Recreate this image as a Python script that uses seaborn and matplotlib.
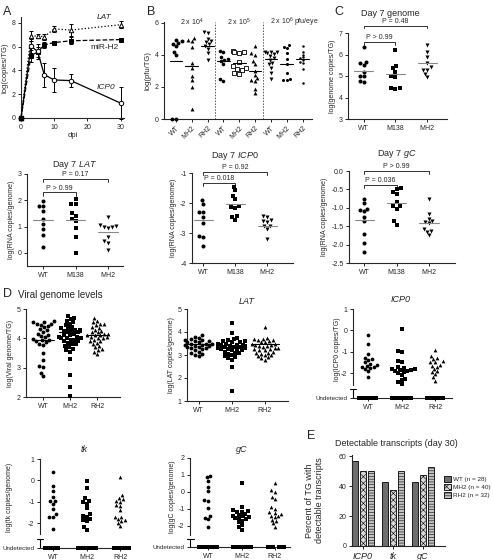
import numpy as np
import pandas as pd
import matplotlib
matplotlib.use("Agg")
import matplotlib.pyplot as plt
import seaborn as sns
from matplotlib.patches import Patch

sns.set_style("ticks")
plt.rcParams['font.family'] = ['Liberation Sans', 'DejaVu Sans']
plt.rcParams['axes.unicode_minus'] = False
plt.rcParams['mathtext.fontset'] = 'custom'
plt.rcParams['mathtext.rm'] = 'Liberation Sans'
plt.rcParams['mathtext.it'] = 'Liberation Sans:italic'
plt.rcParams['hatch.linewidth'] = 0.4
np.random.seed(3)

# ---- A: time course ----
a_days = [0, 3, 5, 7, 10, 15, 30]
a_lat = [0, 6.9, 6.9, 6.85, 7.5, 7.4, 7.85]
a_lat_err = [0, 0.4, 0.2, 0.25, 0.25, 0.5, 0.3]
a_mir = [0, 5.25, 5.55, 6.15, 6.35, 6.5, 6.6]
a_mir_err = [0, 0.5, 0.4, 0.25, 0.15, 0.3, 0.1]
a_icp0 = [0, 6.05, 5.6, 3.65, 3.2, 3.15, 1.25]
a_icp0_err = [0, 0.6, 0.6, 1.0, 1.0, 0.55, 1.35]

# ---- B: pfu per TG ----
b_labels = ["WT", "MH2", "RH2"] * 3
b_doses = ["2 x 10$^4$", "2 x 10$^5$", "2 x 10$^6$ pfu/eye"]
b_vals = [
    [4.95, 4.85, 4.75, 4.7, 4.55, 4.2, 4.0, 0, 0],
    [5.05, 4.95, 4.85, 4.5, 3.5, 3.2, 2.7, 2.45, 2.0, 0.6],
    [5.4, 5.35, 5.0, 4.85, 4.8, 4.65, 4.55, 4.35, 4.1, 3.65],
    [4.25, 4.2, 3.85, 3.75, 3.7, 3.6, 3.45, 2.5, 2.4],
    [4.25, 4.2, 4.15, 4.1, 3.55, 3.3, 3.2, 3.1, 3.05, 2.85, 2.8],
    [4.55, 4.1, 4.0, 3.6, 3.4, 3.0, 2.75, 2.55, 2.45, 2.35, 1.9, 1.6],
    [4.2, 4.2, 4.15, 4.1, 4.05, 3.95, 3.8, 3.7, 3.5, 3.4, 3.2, 2.9, 2.5],
    [4.6, 4.45, 4.5, 4.1, 3.75, 3.4, 2.85, 2.5, 2.45, 2.45],
    [4.55, 4.2, 4.0, 3.85, 3.8, 3.7, 3.55, 3.5, 3.1, 2.25],
]
b_lines = [3.6, 3.28, 4.58, 3.6, 3.49, 2.97, 3.75, 3.45, 3.75]

# ---- C and day 7 panels ----
d7_cats = ["WT", "M138", "MH2"]
c_genome = [
    [6.35, 5.65, 5.6, 5.5, 5.2, 5.0, 5.0, 4.75, 4.7],
    [6.2, 5.45, 5.35, 5.2, 5.0, 4.95, 4.45, 4.45, 4.4],
    [6.45, 6.1, 5.9, 5.6, 5.4, 5.3, 5.3, 5.1, 4.95],
]
c_genome_lines = [5.25, 5.1, 5.6]
d7_lat = [
    [1.98, 1.8, 1.8, 1.6, 1.3, 1.1, 0.92, 0.68, 0.22],
    [2.05, 1.85, 1.85, 1.5, 1.4, 1.3, 1.2, 0.95, 0.6, 0.0],
    [1.35, 1.05, 1.02, 1.0, 0.98, 0.95, 0.6, 0.45, 0.38, 0.12],
]
d7_lat_lines = [1.24, 1.25, 0.78]
d7_icp0 = [
    [-1.9, -2.03, -2.3, -2.3, -2.45, -2.65, -3.1, -3.12, -3.42],
    [-1.45, -1.58, -1.75, -1.87, -2.1, -2.15, -2.12, -2.43, -2.47, -2.57],
    [-2.42, -2.45, -2.55, -2.6, -2.63, -2.75, -2.77, -2.85, -3.2],
]
d7_icp0_lines = [-2.58, -2.04, -2.76]
d7_gc = [
    [-0.75, -0.88, -1.02, -1.06, -1.1, -1.25, -1.36, -1.72, -1.95, -2.2],
    [-0.47, -0.49, -0.56, -0.63, -0.84, -0.95, -0.96, -1.02, -1.37, -1.46],
    [-0.77, -1.17, -1.35, -1.38, -1.3, -1.42, -1.57, -1.63, -1.66, -1.75],
]
d7_gc_lines = [-1.34, -0.86, -1.41]

# ---- D: day 30 ----
d_cats = ["WT", "MH2", "RH2"]
d_genome = [
    [4.58, 4.54, 4.5, 4.47, 4.5, 4.54, 4.41, 4.37, 4.31, 4.27, 4.22, 4.16, 4.12, 4.08,
     4.04, 3.99, 3.95, 3.93, 3.9, 3.87, 3.81, 3.78, 3.49, 3.26, 3.06, 3.03, 2.83, 2.72],
    [4.75, 4.7, 4.65, 4.6, 4.55, 4.5, 4.45, 4.4, 4.35, 4.35, 4.3, 4.3, 4.25, 4.25, 4.2,
     4.2, 4.15, 4.1, 4.1, 4.05, 4.05, 4.0, 4.0, 3.95, 3.95, 3.9, 3.9, 3.85, 3.8, 3.8,
     3.75, 3.7, 3.65, 3.6, 3.55, 3.3, 2.75, 2.35, 2.05, 4.0],
    [4.7, 4.6, 4.55, 4.5, 4.5, 4.45, 4.4, 4.35, 4.3, 4.25, 4.2, 4.2, 4.15, 4.15, 4.1,
     4.1, 4.1, 4.05, 4.05, 4.0, 4.0, 3.95, 3.9, 3.85, 3.8, 3.75, 3.7, 3.65, 3.6, 3.55,
     3.45, 3.9],
]
d_genome_lines = [3.93, 4.22, 4.12]
d_lat = [
    [3.85, 3.8, 3.75, 3.7, 3.65, 3.65, 3.6, 3.6, 3.55, 3.55, 3.5, 3.5, 3.5, 3.45, 3.45,
     3.4, 3.4, 3.35, 3.35, 3.3, 3.3, 3.25, 3.2, 3.15, 3.1, 3.05, 3.0, 2.95],
    [4.4, 3.95, 3.75, 3.7, 3.65, 3.6, 3.6, 3.55, 3.55, 3.5, 3.5, 3.45, 3.45, 3.45, 3.4,
     3.4, 3.4, 3.35, 3.35, 3.35, 3.3, 3.3, 3.3, 3.25, 3.25, 3.2, 3.2, 3.15, 3.1, 3.1,
     3.05, 3.0, 2.95, 2.9, 2.85, 2.8, 2.5, 1.45, 3.25, 3.35],
    [4.2, 3.75, 3.7, 3.7, 3.65, 3.65, 3.6, 3.55, 3.55, 3.5, 3.5, 3.45, 3.45, 3.4, 3.4,
     3.35, 3.3, 3.3, 3.25, 3.2, 3.2, 3.15, 3.1, 3.1, 3.05, 3.0, 3.0, 2.95, 2.9, 2.85,
     2.8, 3.25],
]
d_lat_lines = [3.5, 3.35, 3.5]
d_icp0 = [
    [-0.2, -0.65, -1.1, -1.3, -1.35, -1.4, -1.5, -1.55, -1.6, -1.65, -1.7, -1.72, -1.75,
     -1.8, -1.9, -2.2],
    [0.05, -0.95, -1.0, -1.45, -1.5, -1.7, -1.75, -1.8, -1.8, -1.85, -1.85, -1.9, -1.9,
     -1.95, -2.0, -2.1, -2.25, -2.3, -2.4, -2.5],
    [-0.9, -1.2, -1.3, -1.35, -1.45, -1.5, -1.5, -1.6, -1.65, -1.7, -1.8, -1.9, -1.95,
     -2.05, -2.2, -2.35],
]
d_icp0_undet = [12, 20, 16]
d_tk = [
    [0.38, -0.25, -0.52, -0.78, -0.95, -0.98, -1.1, -1.35, -1.6, -1.7, -1.72, -2.28],
    [-0.02, -0.38, -0.85, -0.95, -1.0, -1.1, -1.28, -1.6, -1.65, -1.7, -1.8, -1.85, -1.9,
     -2.2, -2.32],
    [0.15, -0.68, -0.82, -0.88, -0.95, -1.0, -1.15, -1.2, -1.4, -1.7, -1.72, -1.8, -1.85,
     -1.9, -1.98, -2.12],
]
d_tk_undet = [16, 25, 16]
d_gc = [
    [0.96, 0.86, 0.66, 0.3, 0.06, -0.5, -0.54, -0.94, -1.4, -1.54, -1.6, -2.1],
    [0.55, -0.92, -1.05, -1.12, -1.18, -1.22, -1.3, -1.36, -1.4, -1.45, -1.5, -1.55, -1.58,
     -1.62, -1.72, -1.8, -1.95, -2.1, -2.25],
    [0.55, 0.1, 0.0, -0.3, -0.45, -0.9, -1.0, -1.2, -1.25, -1.3, -1.4, -1.45, -1.5, -1.65,
     -1.7, -1.85, -2.05],
]
d_gc_undet = [16, 21, 15]

# ---- E ----
e_genes = ["ICP0", "tk", "gC"]
e_viruses = ["WT (n = 28)", "MH2 (n = 40)", "RH2 (n = 32)"]
e_pct = {
    "WT (n = 28)": [57.1, 42.9, 42.9],
    "MH2 (n = 40)": [50.0, 37.5, 47.5],
    "RH2 (n = 32)": [50.0, 50.0, 53.1],
}

W, H = 493, 560
fig = plt.figure(figsize=(W / 100, H / 100), dpi=100)


def box(l, t, r, b):
    ax = fig.add_axes([l / W, 1 - b / H, (r - l) / W, (b - t) / H])
    return ax


def style(ax):
    sns.despine(ax=ax)
    for s in ["left", "bottom"]:
        ax.spines[s].set_linewidth(0.8)
    ax.tick_params(labelsize=5, length=2.5, width=0.7, pad=1.5)


def dots(ax, cats, vals, markers, size=2.6, open_idx=(), sizes=None):
    for i, v in enumerate(vals):
        df = pd.DataFrame({"g": cats[i], "v": v})
        if i in open_idx:
            kw = dict(color="white", edgecolor="black", linewidth=0.6)
        else:
            kw = dict(color="black")
        s = sizes[i] if sizes else size
        sns.swarmplot(data=df, x="g", y="v", order=cats, marker=markers[i], size=s,
                      ax=ax, zorder=3, clip_on=False, **kw)
    ax.set_xlabel("")


def center_lines(ax, lines, color, half=0.3):
    for i, m in enumerate(lines):
        ax.plot([i - half, i + half], [m, m], color=color, lw=0.8, zorder=4)


def bracket(ax, x0, x1, y, drop, text):
    ax.plot([x0, x0, x1, x1], [y - drop, y, y, y - drop], color="#333333", lw=0.7,
            clip_on=False)
    ax.text((x0 + x1) / 2, y + drop * 0.25, text, ha="center", va="bottom", fontsize=5)


def ftext(x, y, s, **kw):
    fig.text(x / W, 1 - y / H, s, ha=kw.pop("ha", "center"), va=kw.pop("va", "center"), **kw)


# ---------- A ----------
ax = box(21, 17, 124, 118)
for y, e, ls, mk, mfc in [(a_lat, a_lat_err, ":", "^", "white"),
                          (a_mir, a_mir_err, "--", "s", "black"),
                          (a_icp0, a_icp0_err, "-", "o", "white")]:
    sns.lineplot(x=a_days, y=y, ax=ax, color="black", linestyle=ls, lw=0.9, marker=mk,
                 markersize=3.2, markerfacecolor=mfc, markeredgecolor="black",
                 markeredgewidth=0.7, clip_on=False, zorder=3)
    ax.errorbar(a_days, y, yerr=e, fmt="none", ecolor="black", elinewidth=0.7,
                capsize=1.5, capthick=0.7, clip_on=False)
ax.plot([0], [0], "s", color="black", ms=3.5, clip_on=False, zorder=5)
ax.set_xlim(0, 31)
ax.set_ylim(0, 8.5)
ax.set_xticks([0, 10, 20, 30])
ax.set_yticks([0, 2, 4, 6, 8])
ax.set_xlabel("dpi", fontsize=5.5, labelpad=1)
ax.set_ylabel("log(copies/TG)", fontsize=5.5, labelpad=2)
ax.text(25, 8.45, "LAT", fontsize=6, fontstyle="italic", ha="center", va="center")
ax.text(25, 5.95, "miR-H2", fontsize=6, ha="center", va="center")
ax.text(25.5, 2.6, "ICP0", fontsize=6, fontstyle="italic", ha="center", va="center")
style(ax)

# ---------- B ----------
ax = box(164, 22, 312, 119)
b_keys = [str(i) for i in range(9)]
dots(ax, b_keys, b_vals, ["o", "^", "v", "o", "s", "^", "v", "o", "o"],
     open_idx=(4,), sizes=[2.8, 2.8, 2.8, 2.6, 2.8, 2.8, 2.8, 2.2, 1.8])
center_lines(ax, b_lines, "black", half=0.4)
for xv in [2.5, 5.5]:
    ax.axvline(xv, color="#555555", ls=(0, (1.5, 1.5)), lw=0.7)
for k, lab in enumerate(b_doses):
    ax.text(3 * k + 1 + (0.5 if k == 2 else 0), 6.0, lab, fontsize=5, ha="center", va="center")
ax.set_xlim(-0.75, 8.6)
ax.set_ylim(0, 6.05)
ax.set_yticks([0, 2, 4, 6])
ax.set_xticks(range(9))
ax.set_xticklabels(b_labels, rotation=45, ha="right", rotation_mode="anchor")
ax.set_ylabel("log(pfu/TG)", fontsize=5.5, labelpad=2)
style(ax)

# ---------- C ----------
ax = box(348, 33, 447, 119)
dots(ax, d7_cats, c_genome, ["o", "s", "v"], size=2.9)
center_lines(ax, c_genome_lines, "#888888")
bracket(ax, 0, 2, 7.33, 0.12, "P = 0.48")
bracket(ax, 0, 1, 6.58, 0.12, "P > 0.99")
ax.set_xlim(-0.5, 2.63)
ax.set_ylim(3, 7)
ax.set_yticks([3, 4, 5, 6, 7])
ax.set_ylabel("log(genome copies/TG)", fontsize=5, labelpad=2)
style(ax)
ftext(390, 14, "Day 7 genome", fontsize=6.5)

# ---------- Day 7 LAT ----------
ax = box(27, 174, 123, 266)
dots(ax, d7_cats, d7_lat, ["o", "s", "v"], size=2.9)
center_lines(ax, d7_lat_lines, "#888888")
bracket(ax, 0, 2, 2.8, 0.12, "P = 0.17")
bracket(ax, 0, 1, 2.3, 0.12, "P > 0.99")
ax.set_xlim(-0.5, 2.46)
ax.set_ylim(-0.5, 3)
ax.set_yticks([0, 1, 2, 3])
ax.set_ylabel("log(RNA copies/genome)", fontsize=5, labelpad=2)
style(ax)
ftext(75, 164, r"Day 7 $\mathit{LAT}$", fontsize=6.5)

# ---------- Day 7 ICP0 ----------
ax = box(192, 173, 293, 263)
dots(ax, d7_cats, d7_icp0, ["o", "s", "v"], size=2.9)
center_lines(ax, d7_icp0_lines, "#888888")
bracket(ax, 0, 2, -0.97, 0.1, "P = 0.92")
bracket(ax, 0, 1, -1.33, 0.1, "P = 0.018")
ax.set_xlim(-0.35, 2.8)
ax.set_ylim(-4, -1)
ax.set_yticks([-4, -3, -2, -1])
ax.set_ylabel("log(RNA copies/genome)", fontsize=5, labelpad=2)
style(ax)
ftext(235, 156, r"Day 7 $\mathit{ICP0}$", fontsize=6.5)

# ---------- Day 7 gC ----------
ax = box(349, 171, 455, 263)
dots(ax, d7_cats, d7_gc, ["o", "s", "v"], size=2.9)
center_lines(ax, d7_gc_lines, "#888888")
bracket(ax, 0, 2, 0.0, 0.08, "P > 0.99")
bracket(ax, 0, 1, -0.38, 0.08, "P = 0.036")
ax.set_xlim(-0.47, 2.8)
ax.set_ylim(-2.5, 0)
ax.set_yticks([-2.5, -2.0, -1.5, -1.0, -0.5, 0.0])
ax.set_yticklabels(["-2.5", "-2.0", "-1.5", "-1.0", "-0.5", "0.0"])
ax.set_ylabel("log(RNA copies/genome)", fontsize=5, labelpad=2)
style(ax)
ftext(397, 154, r"Day 7 $\mathit{gC}$", fontsize=6.5)

# ---------- D: viral genome ----------
ax = box(26, 309, 120, 397)
dots(ax, d_cats, d_genome, ["o", "s", "^"], size=2.8)
center_lines(ax, d_genome_lines, "black", half=0.42)
ax.set_xlim(-0.63, 2.85)
ax.set_ylim(2, 5)
ax.set_yticks([2, 3, 4, 5])
ax.set_ylabel("log(Viral genome/TG)", fontsize=5, labelpad=2)
style(ax)
ftext(60, 295, "Viral genome levels", fontsize=7)

# ---------- D: LAT ----------
ax = box(187, 309, 288, 401)
dots(ax, d_cats, d_lat, ["o", "s", "^"], size=2.8)
center_lines(ax, d_lat_lines, "black", half=0.42)
ax.set_xlim(-0.35, 2.7)
ax.set_ylim(1, 5)
ax.set_yticks([1, 2, 3, 4, 5])
ax.set_ylabel("log(LAT copies/genome)", fontsize=5, labelpad=2)
style(ax)
ftext(247, 302, "LAT", fontsize=6.5, fontstyle="italic")


def undetected_panel(ax, detected, n_undet, und_y, top, brk_y, spine_lo, xlim, yticks,
                     ylabel, label_xy):
    dots(ax, d_cats, detected, ["o", "s", "^"], size=2.7)
    for i, n in enumerate(n_undet):
        df = pd.DataFrame({"g": d_cats[i], "v": [und_y] * n})
        sns.stripplot(data=df, x="g", y="v", order=d_cats, marker="s", size=3.2,
                      jitter=0.3, color="black", ax=ax, clip_on=False, zorder=4)
    ax.set_xlabel("")
    ax.set_xlim(*xlim)
    ax.set_ylim(und_y, top)
    ax.set_yticks(yticks + [und_y])
    ax.set_yticklabels([str(t) for t in yticks] + ["Undetected"])
    style(ax)
    ax.get_yticklabels()[-1].set_fontsize(4.5)
    ax.spines["left"].set_bounds(spine_lo, top)
    tr = ax.get_yaxis_transform()
    ax.plot([0, 0], [und_y, brk_y], transform=tr, color="black", lw=0.8, clip_on=False)
    ax.plot([-0.035, 0.035], [brk_y, brk_y], transform=tr, color="black", lw=0.8,
            clip_on=False)
    ax.set_ylabel(ylabel, fontsize=5)
    ax.yaxis.set_label_coords(*label_xy)


ax = box(353, 309, 452, 398)
undetected_panel(ax, d_icp0, d_icp0_undet, -3.16, 1, -2.74, -2.56, (-0.45, 2.5),
                 [-2, -1, 0, 1], "log(ICP0 copies/TG)", (-0.12, 0.55))
ftext(401, 300, "ICP0", fontsize=6.5, fontstyle="italic")

ax = box(40, 459, 130, 548)
undetected_panel(ax, d_tk, d_tk_undet, -3.17, 1, -2.75, -2.5, (-0.4, 2.3),
                 [-2, -1, 0, 1], "log(tk copies/genome)", (-0.3, 0.57))
ftext(84, 449, "tk", fontsize=6.5, fontstyle="italic")

ax = box(190, 458, 290, 547)
undetected_panel(ax, d_gc, d_gc_undet, -3.26, 2, -2.78, -2.55, (-0.55, 2.45),
                 [-2, -1, 0, 1, 2], "log(gC copies/genome)", (-0.14, 0.56))
ftext(242, 449, "gC", fontsize=6.5, fontstyle="italic")

# ---------- E ----------
ax = box(352, 455, 445, 546)
e_df = pd.DataFrame([(g, v, e_pct[v][i]) for v in e_viruses for i, g in enumerate(e_genes)],
                    columns=["gene", "virus", "pct"])
e_colors = ["#6e6e6e", "#d8d8d8", "#c4c4c4"]
e_hatches = ["", "xxxxx", "------"]
sns.barplot(data=e_df, x="gene", y="pct", hue="virus", order=e_genes, hue_order=e_viruses,
            palette=e_colors, edgecolor="black", linewidth=0.6, width=0.8, gap=0.25,
            ax=ax, legend=False)
for cont, h in zip(ax.containers, e_hatches):
    for p in cont:
        p.set_hatch(h)
ax.set_xlim(-0.37, 2.73)
ax.set_ylim(0, 61)
ax.set_yticks([0, 20, 40, 60])
ax.set_xlabel("")
ax.set_ylabel("Percent of TG with\ndetectable transcripts", fontsize=6.5)
style(ax)
ax.yaxis.set_label_coords(-0.3, 0.5)
ax.set_xticks(range(3))
ax.set_xticklabels(e_genes, fontstyle="italic", fontsize=6.5)
handles = [Patch(facecolor=c, edgecolor="black", hatch=h, lw=0.6, label=v)
           for c, h, v in zip(e_colors, e_hatches, e_viruses)]
ax.legend(handles=handles, loc="center left", bbox_to_anchor=(0.96, 0.65), frameon=False,
          fontsize=4.6, handlelength=1.1, handleheight=1.0, labelspacing=0.3,
          handletextpad=0.4, borderaxespad=0)
ftext(396, 443, "Detectable transcripts (day 30)", fontsize=6.5)

# panel letters
for lab, x, y in [("A", 3, 12), ("B", 147, 12), ("C", 334, 12), ("D", 3, 294),
                  ("E", 307, 436)]:
    ftext(x, y, lab, fontsize=9, ha="left")

fig.savefig("out.png", dpi=100)
